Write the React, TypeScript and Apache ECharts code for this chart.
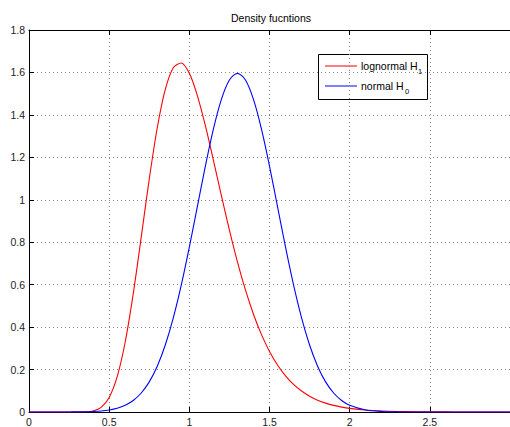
import React, { useEffect, useRef } from "react";
import * as echarts from "echarts";

// x positions (shared by both curves)
const xValues = [
  0, 0.05, 0.1, 0.15, 0.2, 0.25, 0.3, 0.35, 0.4, 0.45,
  0.5, 0.55, 0.6, 0.65, 0.7, 0.75, 0.8, 0.85, 0.9, 0.95,
  1.0, 1.05, 1.1, 1.15, 1.2, 1.25, 1.3, 1.35, 1.4, 1.45,
  1.5, 1.55, 1.6, 1.65, 1.7, 1.75, 1.8, 1.85, 1.9, 1.95,
  2.0, 2.1, 2.2, 2.3, 2.4, 2.5, 2.6, 2.7, 2.8, 2.9, 3.0,
];

// lognormal H1 density
const lognormalH1 = [
  0, 0, 0, 0, 0, 0.000001, 0.00005, 0.00068, 0.00483, 0.0216,
  0.0684, 0.1663, 0.3298, 0.5563, 0.8239, 1.0974, 1.3393, 1.5198, 1.6224, 1.6448,
  1.5958, 1.4911, 1.349, 1.1869, 1.0193, 0.8571, 0.7077, 0.5751, 0.4608, 0.3647,
  0.2856, 0.2215, 0.1704, 0.1301, 0.0987, 0.0744, 0.0559, 0.0418, 0.0311, 0.0231,
  0.0171, 0.0093, 0.005, 0.0027, 0.00144, 0.00077, 0.00041, 0.00022, 0.00012, 0.00006, 0.00003,
];

// normal H0 density
const normalH0 = [
  0.000002, 0.000006, 0.000016, 0.00004, 0.0001, 0.00024, 0.00054, 0.00117, 0.00245, 0.00493,
  0.00954, 0.0177, 0.0317, 0.0543, 0.0896, 0.1419, 0.216, 0.3158, 0.4437, 0.5989,
  0.7768, 0.9679, 1.1588, 1.3329, 1.4731, 1.5642, 1.5958, 1.5642, 1.4731, 1.3329,
  1.1588, 0.9679, 0.7768, 0.5989, 0.4437, 0.3158, 0.216, 0.1419, 0.0896, 0.0543,
  0.0317, 0.0095, 0.00245, 0.00054, 0.0001, 0.000016, 0.000002, 0, 0, 0, 0,
];

const seriesNames = ["lognormal H", "normal H"];
const seriesSubs = ["1", "0"];
const seriesColors = ["#ff0000", "#0000ff"];
const titleText = "Density fucntions";

const FONT = "'Liberation Sans', Arial, Helvetica, sans-serif";

export default function App() {
  const ref = useRef<HTMLDivElement>(null);

  useEffect(() => {
    if (!ref.current) return;
    const chart = echarts.init(ref.current, undefined, { renderer: "svg" });

    const axisLine = { show: true, onZero: false, lineStyle: { color: "#000", width: 1 } };
    const axisTick = { show: true, inside: true, length: 5, lineStyle: { color: "#000", width: 1 } };
    const splitLine = { show: true, lineStyle: { color: "#888", type: [1, 3] as any, width: 1 } };
    const label = { fontFamily: FONT, fontSize: 10.5, color: "#222" };

    const legendItems: any[] = [
      {
        type: "rect",
        shape: { x: 318.5, y: 54.5, width: 109, height: 45 },
        style: { fill: "#fff", stroke: "#000", lineWidth: 1 },
      },
    ];
    seriesNames.forEach((name, i) => {
      const y = 66 + i * 20;
      legendItems.push({
        type: "line",
        shape: { x1: 325, y1: y, x2: 357, y2: y },
        style: { stroke: seriesColors[i], lineWidth: 1 },
      });
      legendItems.push({
        type: "text",
        x: 361,
        y: y,
        style: { text: name, font: `10.5px ${FONT}`, fill: "#000", verticalAlign: "middle", align: "left" },
      });
      legendItems.push({
        type: "text",
        x: 361 + (i === 0 ? 57 : 44),
        y: y + 5,
        style: { text: seriesSubs[i], font: `7.5px ${FONT}`, fill: "#000", verticalAlign: "middle", align: "left" },
      });
    });

    chart.setOption({
      animation: false,
      backgroundColor: "#fff",
      grid: { left: 29, right: -5, top: 30, bottom: 15, show: false },
      xAxis: [
        {
          type: "value",
          min: 0,
          max: 3,
          interval: 0.5,
          position: "bottom",
          axisLine,
          axisTick,
          axisLabel: { ...label, margin: 4, showMaxLabel: false, formatter: (v: number) => String(v) },
          splitLine,
        },
        {
          type: "value",
          min: 0,
          max: 3,
          interval: 0.5,
          position: "top",
          axisLine,
          axisTick,
          axisLabel: { show: false },
          splitLine: { show: false },
        },
      ],
      yAxis: [
        {
          type: "value",
          min: 0,
          max: 1.8,
          interval: 0.2,
          position: "left",
          axisLine,
          axisTick,
          axisLabel: { ...label, margin: 4, formatter: (v: number) => String(+v.toFixed(1)) },
          splitLine,
        },
      ],
      series: seriesNames.map((name, i) => ({
        name: name + seriesSubs[i],
        type: "line",
        xAxisIndex: 0,
        yAxisIndex: 0,
        showSymbol: false,
        smooth: 0.3,
        data: xValues.map((x, k) => [x, i === 0 ? lognormalH1[k] : normalH0[k]]),
        lineStyle: { color: seriesColors[i], width: 1.1 },
        itemStyle: { color: seriesColors[i] },
        z: 3 + i,
      })),
      graphic: [
        {
          type: "text",
          x: 271,
          y: 18,
          style: { text: titleText, font: `10.5px ${FONT}`, fill: "#000", align: "center", verticalAlign: "middle" },
        },
        {
          type: "group",
          z: 100,
          children: legendItems,
        },
      ],
    });

    return () => chart.dispose();
  }, []);

  return (
    <div
      ref={ref}
      style={{ position: "absolute", left: 0, top: 0, width: 510, height: 427 }}
    />
  );
}
